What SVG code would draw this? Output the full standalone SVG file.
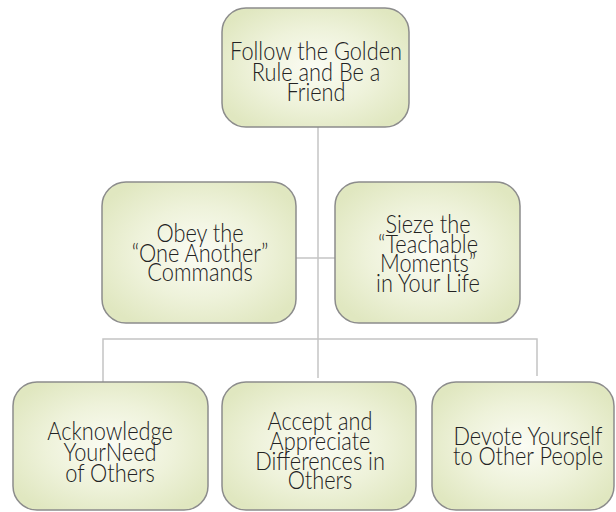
<svg xmlns="http://www.w3.org/2000/svg" width="616" height="512" viewBox="0 0 616 512">
<defs>
<radialGradient id="g" cx="0.5" cy="0.5" r="0.6">
<stop offset="0" stop-color="#fbfcf4"/>
<stop offset="0.55" stop-color="#eef2da"/>
<stop offset="1" stop-color="#e0e7c0"/>
</radialGradient>
<style>
.box{fill:url(#g);stroke:#8c8c8c;stroke-width:1.5}
.t{font-family:Lato,"Open Sans","Liberation Sans",sans-serif;font-size:25px;font-weight:300;fill:#222;text-anchor:middle}
.c{stroke:#c4c4c4;stroke-width:1.5;fill:none}
</style>
</defs>
<rect width="616" height="512" fill="#ffffff"/>
<g id="connectors">
<line class="c" x1="318" y1="127" x2="318" y2="378"/>
<line class="c" x1="296" y1="258" x2="335" y2="258"/>
<polyline class="c" points="103,382 103,339 537,339 537,376"/>
</g>
<g id="n-top">
<rect class="box" x="222" y="8" width="187" height="119" rx="24"/>
<text class="t" transform="translate(316 0) scale(0.87 1)"><tspan x="0" y="60">Follow the Golden</tspan><tspan x="0" y="81">Rule and Be a</tspan><tspan x="0" y="101">Friend</tspan></text>
</g>
<g id="n-obey">
<rect class="box" x="102" y="182" width="194" height="141" rx="24"/>
<text class="t" transform="translate(200 0) scale(0.87 1)"><tspan x="0" y="242">Obey the</tspan><tspan x="0" y="262">“One Another”</tspan><tspan x="0" y="281">Commands</tspan></text>
</g>
<g id="n-sieze">
<rect class="box" x="335" y="182" width="185" height="141" rx="24"/>
<text class="t" transform="translate(428 0) scale(0.87 1)"><tspan x="0" y="233">Sieze the</tspan><tspan x="0" y="253">“Teachable</tspan><tspan x="0" y="272">Moments”</tspan><tspan x="0" y="292">in Your Life</tspan></text>
</g>
<g id="n-ack">
<rect class="box" x="13" y="382" width="195" height="128" rx="24"/>
<text class="t" transform="translate(110 0) scale(0.87 1)"><tspan x="0" y="440">Acknowledge</tspan><tspan x="0" y="461">YourNeed</tspan><tspan x="0" y="482">of Others</tspan></text>
</g>
<g id="n-accept">
<rect class="box" x="222" y="382" width="194" height="128" rx="24"/>
<text class="t" transform="translate(320 0) scale(0.87 1)"><tspan x="0" y="430">Accept and</tspan><tspan x="0" y="450">Appreciate</tspan><tspan x="0" y="470">Differences in</tspan><tspan x="0" y="489">Others</tspan></text>
</g>
<g id="n-devote">
<rect class="box" x="432" y="382" width="182" height="128" rx="24"/>
<text class="t" transform="translate(528 0) scale(0.87 1)"><tspan x="0" y="445">Devote Yourself</tspan><tspan x="0" y="465">to Other People</tspan></text>
</g>
</svg>
